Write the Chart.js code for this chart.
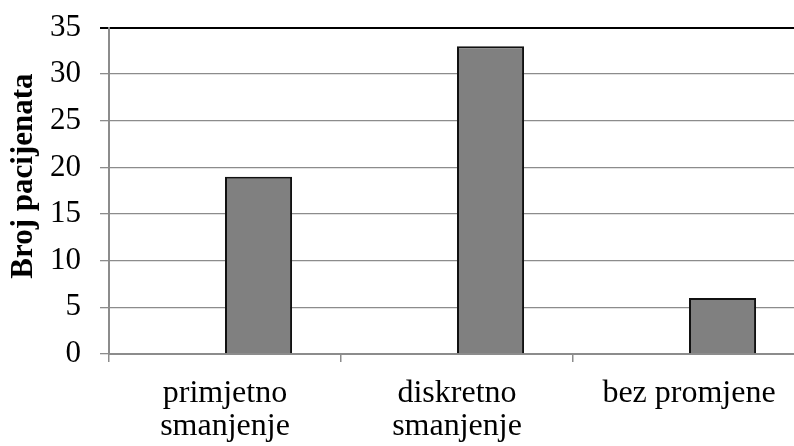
<!DOCTYPE html>
<html>
<head>
<meta charset="utf-8">
<script src="https://cdn.jsdelivr.net/npm/chart.js@4/dist/chart.umd.min.js"></script>
<style>
  html, body { margin: 0; padding: 0; background: #fff; overflow: hidden; }
  #wrap { position: relative; width: 805px; height: 453px; margin-top: -7px; }
</style>
</head>
<body>
<div id="wrap"><canvas id="chart"></canvas></div>
<script>
// Category labels (two lines each)
const categories = [
  ['primjetno', 'smanjenje'],
  ['diskretno', 'smanjenje'],
  ['bez promjene']
];
// Patients per category
const patientCounts = [19, 33, 6];
// Leading empty series slot (kept so the bars sit right of each category centre)
const emptySeries = [null, null, null];
// Y axis range
const yMin = 0, yMax = 35, yStep = 5;
const yTitle = 'Broj pacijenata';

const serif = "'Liberation Serif', 'Times New Roman', serif";

// Vertical axis title, drawn slightly above the plot's middle
const axisTitlePlugin = {
  id: 'axisTitle',
  afterDraw(chart) {
    const { ctx, chartArea } = chart;
    const cy = chartArea.top + chartArea.height * 0.455;
    ctx.save();
    ctx.translate(24, cy);
    ctx.rotate(-Math.PI / 2);
    ctx.font = "bold 31px " + serif;
    ctx.fillStyle = '#000';
    ctx.textAlign = 'center';
    ctx.textBaseline = 'middle';
    ctx.fillText(yTitle, 0, 0);
    ctx.restore();
  }
};

new Chart(document.getElementById('chart'), {
  type: 'bar',
  data: {
    labels: categories,
    datasets: [
      { label: '', data: emptySeries, backgroundColor: '#808080' },
      {
        label: yTitle,
        data: patientCounts,
        backgroundColor: '#808080',
        borderColor: '#111',
        borderWidth: 2
      }
    ]
  },
  plugins: [axisTitlePlugin],
  options: {
    responsive: true,
    maintainAspectRatio: false,
    animation: false,
    layout: { autoPadding: false, padding: { top: 21, right: 0, bottom: 0, left: 0 } },
    datasets: { bar: { categoryPercentage: 0.578, barPercentage: 1.0 } },
    plugins: { legend: { display: false }, tooltip: { enabled: false } },
    scales: {
      x: {
        grid: {
          offset: true,
          drawOnChartArea: false,
          drawTicks: true,
          tickLength: 8,
          color: '#8c8c8c',
          lineWidth: 1.5
        },
        border: { display: true, color: '#8c8c8c', width: 2 },
        ticks: {
          color: '#000',
          font: { family: serif, size: 32, lineHeight: 1.04 },
          padding: 15,
          maxRotation: 0,
          autoSkip: false
        },
        afterFit: (s) => { s.height = 92; }
      },
      y: {
        min: yMin,
        max: yMax,
        ticks: {
          stepSize: yStep,
          color: '#000',
          font: { family: serif, size: 31, lineHeight: 1 },
          padding: 19
        },
        grid: {
          color: (ctx) => (ctx.tick && ctx.tick.value === yMax ? '#000' : '#8c8c8c'),
          lineWidth: (ctx) => (ctx.tick && ctx.tick.value === yMax ? 2 : 1.3),
          tickLength: 9
        },
        border: { display: true, color: '#8c8c8c', width: 2 },
        afterFit: (s) => { s.width = 109; }
      }
    }
  }
});
</script>
</body>
</html>
